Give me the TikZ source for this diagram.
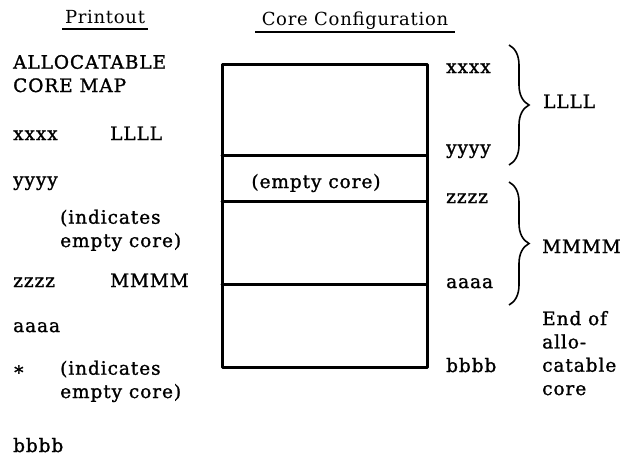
\documentclass[tikz,border=0pt]{standalone}
\usepackage{fontspec}
\setmainfont{DejaVu Serif}[LetterSpace=5, FakeBold=1.3]
\newfontfamily\hdfont{DejaVu Serif}[LetterSpace=4]
\usetikzlibrary{decorations.pathreplacing}
\begin{document}
\begin{tikzpicture}[x=1pt, y=-1pt,
    every node/.style={anchor=base west, inner sep=0pt, font=\fontsize{18.5}{23.3}\selectfont},
    txt/.style={align=left},
    hd/.style={font=\hdfont\fontsize{18}{22}\selectfont},
    wall/.style={line width=3pt, line cap=round, line join=round},
    brc/.style={line width=1.6pt, decorate, decoration={brace, amplitude=20pt}}]
  \useasboundingbox (0,0) rectangle (623,456);

  % headings
  \node[hd, anchor=base] (printhd) at (105,23) {Printout};
  \node[hd, anchor=base] (corehd) at (355,25) {Core Configuration};
  \draw[line width=1.2pt] (62,29) -- (148,29);
  \draw[line width=1.2pt] (255,32) -- (455,32);

  % printout column
  \node[txt] (allocmap) at (13,92) {ALLOCATABLE\\CORE MAP};
  \node (px) at (13,140) {xxxx};
  \node (pL) at (110,140) {LLLL};
  \node (py) at (13,186) {yyyy};
  \node[txt] (pind1) at (60,247) {(indicates\\empty core)};
  \node (pz) at (13,287) {zzzz};
  \node (pM) at (110,287) {MMMM};
  \node (pa) at (13,332) {aaaa};
  \node (pstar) at (14,379) {*};
  \node[txt] (pind2) at (60,398) {(indicates\\empty core)};
  \node (pb) at (13,452) {bbbb};

  % core configuration
  \coordinate (tl) at (222,64);
  \coordinate (br) at (427,367);
  \draw[wall] (tl) rectangle (br);
  \foreach \yy in {155,201,284}
    \draw[wall] (222,\yy) -- (427,\yy);
  \node[anchor=base] (empty) at (316,188) {(empty core)};

  \node (cx) at (446,73) {xxxx};
  \node (cy) at (446,154) {yyyy};
  \node (cz) at (446,203) {zzzz};
  \node (ca) at (446,288) {aaaa};
  \node (cb) at (446,372) {bbbb};

  % braces
  \coordinate (b1t) at (509,45);
  \coordinate (b1b) at (509,165);
  \coordinate (b2t) at (509,182);
  \coordinate (b2b) at (509,305);
  \draw[brc] (b1t) -- (b1b);
  \draw[brc] (b2t) -- (b2b);
  \node (lL) at (543,108) {LLLL};
  \node (lM) at (542,253) {MMMM};
  \node[txt] (endcore) at (542,395) {End of\\allo-\\catable\\core};
\end{tikzpicture}
\end{document}
